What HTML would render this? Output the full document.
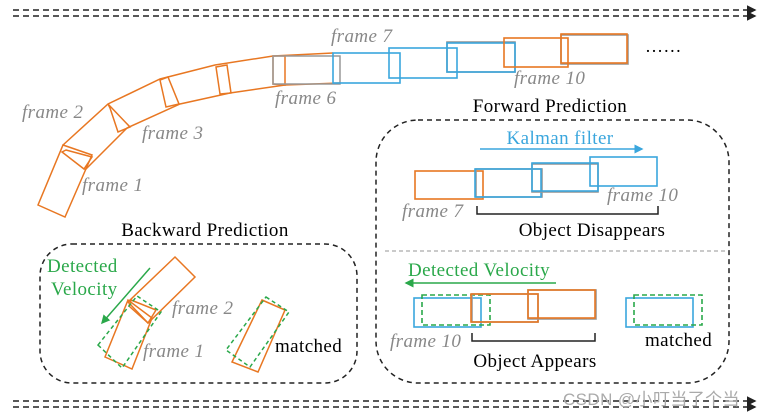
<!DOCTYPE html>
<html><head><style>body{margin:0;background:#fff}svg{display:block}
text{font-family:"Liberation Serif",serif;letter-spacing:0.4px}</style></head><body>
<svg width="768" height="417" viewBox="0 0 768 417" xmlns="http://www.w3.org/2000/svg">
<defs>
<marker id="ak" markerWidth="6" markerHeight="6" refX="5" refY="3" orient="auto"><path d="M0,0 L6,3 L0,6z" fill="#222"/></marker>
<marker id="ab" markerWidth="6" markerHeight="6" refX="5" refY="3" orient="auto"><path d="M0,0 L6,3 L0,6z" fill="#3aa6dd"/></marker>
<marker id="ag" markerWidth="6" markerHeight="6" refX="5" refY="3" orient="auto"><path d="M0,0 L6,3 L0,6z" fill="#2aa84a"/></marker>
</defs>
<g stroke="#222" stroke-width="1.6" stroke-dasharray="6,4" fill="none">
<line x1="13" y1="10" x2="755" y2="10" marker-end="url(#ak)"/>
<line x1="13" y1="16" x2="755" y2="16" marker-end="url(#ak)"/>
<line x1="13" y1="401" x2="755" y2="401" marker-end="url(#ak)"/>
<line x1="13" y1="407" x2="755" y2="407" marker-end="url(#ak)"/>
</g>
<g fill="none" stroke="#e87722" stroke-width="1.5">
<polygon points="38,205 65,217 92,155 63,145"/>
<polyline points="63,145 108,104 160,79 215,65 273,56 333,53"/>
<polyline points="85,170 127,128 180,104 230,93 285,85 340,83"/>
<polygon points="66,150 92,157 84,169 62,152"/>
<polygon points="108,104 130,127 118,132 110,108"/>
<polygon points="160,80 168,77 179,104 166,107"/>
<polygon points="216,67 227,65 231,93 220,94"/>
<polygon points="273,56 285,56 285,85 273,84"/>
</g>
<rect x="273" y="56" width="67" height="28" fill="none" stroke="#999" stroke-width="1.5"/>
<g fill="none" stroke-width="1.6">
<rect x="333" y="53" width="67" height="30" stroke="#3aa6dd"/>
<rect x="447" y="42" width="68" height="30" stroke="#999"/>
<rect x="389" y="48" width="68" height="30" stroke="#3aa6dd"/>
<rect x="447" y="43" width="68" height="29" stroke="#3aa6dd"/>
<rect x="561" y="35" width="67" height="29" stroke="#999"/>
<rect x="504" y="38" width="64" height="29" stroke="#e87722"/>
<rect x="561" y="34" width="66" height="29" stroke="#e87722"/>
</g>
<text x="645" y="52" font-size="18">……</text>
<g font-style="italic" fill="#888" font-size="19">
<text x="331" y="42">frame 7</text>
<text x="514" y="84">frame 10</text>
<text x="275" y="104">frame 6</text>
<text x="22" y="118">frame 2</text>
<text x="142" y="139">frame 3</text>
<text x="82" y="191">frame 1</text>
</g>
<text x="550" y="112" font-size="19" text-anchor="middle">Forward Prediction</text>
<rect x="376" y="120" width="353" height="263" rx="42" fill="none" stroke="#222" stroke-width="1.5" stroke-dasharray="5,4"/>
<line x1="385" y1="251" x2="728" y2="251" stroke="#aaa" stroke-width="1.2" stroke-dasharray="4,3"/>
<text x="560" y="144" font-size="19" fill="#3aa6dd" text-anchor="middle">Kalman filter</text>
<line x1="480" y1="149" x2="642" y2="149" stroke="#3aa6dd" stroke-width="1.5" marker-end="url(#ab)"/>
<g fill="none" stroke-width="1.6">
<rect x="415" y="171" width="68" height="28" stroke="#e87722"/>
<rect x="476" y="169" width="66" height="28" stroke="#999"/>
<rect x="475" y="169" width="66" height="28" stroke="#3aa6dd"/>
<rect x="532" y="164" width="66" height="28" stroke="#999"/>
<rect x="532" y="163" width="66" height="28" stroke="#3aa6dd"/>
<rect x="590" y="157" width="67" height="29" stroke="#3aa6dd"/>
</g>
<text x="402" y="217" font-size="19" font-style="italic" fill="#888">frame 7</text>
<text x="607" y="201" font-size="19" font-style="italic" fill="#888">frame 10</text>
<polyline points="477,206 477,214 658,214 658,206" fill="none" stroke="#222" stroke-width="1.5"/>
<text x="592" y="236" font-size="19" text-anchor="middle">Object Disappears</text>
<text x="408" y="276" font-size="19" fill="#2aa84a">Detected Velocity</text>
<line x1="556" y1="283" x2="406" y2="283" stroke="#2aa84a" stroke-width="1.5" marker-end="url(#ag)"/>
<g fill="none" stroke-width="1.6">
<rect x="414" y="298" width="67" height="29" stroke="#3aa6dd"/>
<rect x="422" y="295" width="68" height="30" stroke="#2aa84a" stroke-dasharray="5,3"/>
<rect x="472" y="294" width="66" height="28" stroke="#999"/>
<rect x="471" y="294" width="67" height="28" stroke="#e87722"/>
<rect x="528" y="290" width="68" height="29" stroke="#999"/>
<rect x="528" y="290" width="67" height="28" stroke="#e87722"/>
<rect x="626" y="298" width="67" height="29" stroke="#3aa6dd"/>
<rect x="634" y="295" width="68" height="30" stroke="#2aa84a" stroke-dasharray="5,3"/>
</g>
<text x="390" y="347" font-size="19" font-style="italic" fill="#888">frame 10</text>
<polyline points="472,333 472,341 595,341 595,333" fill="none" stroke="#222" stroke-width="1.5"/>
<text x="535" y="367" font-size="19" text-anchor="middle">Object Appears</text>
<text x="645" y="346" font-size="19">matched</text>
<text x="205" y="236" font-size="19" text-anchor="middle">Backward Prediction</text>
<rect x="40" y="244" width="317" height="139" rx="32" fill="none" stroke="#222" stroke-width="1.5" stroke-dasharray="5,4"/>
<text x="47" y="272" font-size="19" fill="#2aa84a">Detected</text>
<text x="51" y="295" font-size="19" fill="#2aa84a">Velocity</text>
<line x1="150" y1="268" x2="102" y2="323" stroke="#2aa84a" stroke-width="1.5" marker-end="url(#ag)"/>
<g fill="none" stroke-width="1.5">
<polygon points="175,257 195,277 148,323 128,302" stroke="#e87722"/>
<polygon points="105,357 132,369 152,318 128,300" stroke="#e87722"/>
<polygon points="131,300 156,310 148,323 129,306" stroke="#e87722"/>
<polygon points="98,345 122,368 161,312 137,296" stroke="#2aa84a" stroke-dasharray="4,3"/>
<polygon points="262,300 285,310 258,372 232,362" stroke="#e87722"/>
<polygon points="266,297 289,312 250,367 226,350" stroke="#2aa84a" stroke-dasharray="4,3"/>
</g>
<text x="172" y="314" font-size="19" font-style="italic" fill="#888">frame 2</text>
<text x="143" y="357" font-size="19" font-style="italic" fill="#888">frame 1</text>
<text x="275" y="352" font-size="19">matched</text>
<text x="563" y="405" font-size="17" fill="#aaa" style="font-family:'Liberation Sans','Noto Sans CJK SC',sans-serif">CSDN @小叮当了个当</text>
</svg>
</body></html>
